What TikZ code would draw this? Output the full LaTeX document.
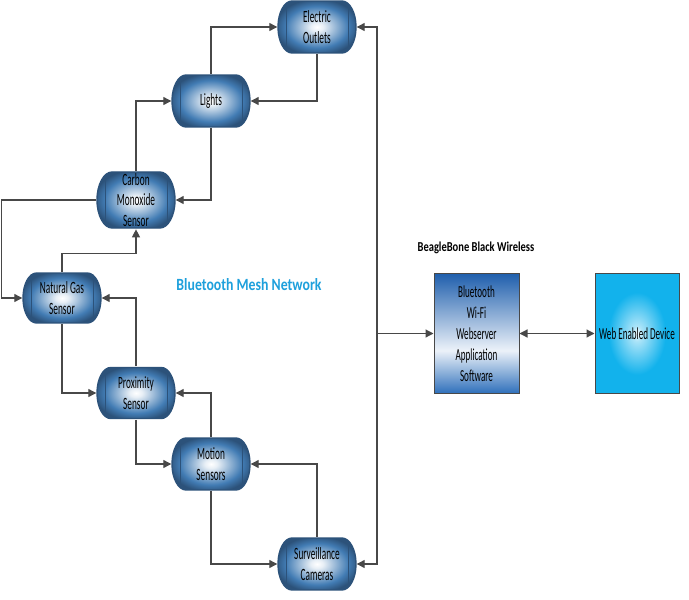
\documentclass[tikz,border=0pt]{standalone}
\usepackage{fontspec}
\setmainfont{Carlito}
\usetikzlibrary{arrows.meta,shapes.misc}
\definecolor{capblue}{RGB}{66,124,180}
\definecolor{capdark}{RGB}{44,82,122}
\definecolor{linegray}{RGB}{72,72,72}
\definecolor{bbdark}{RGB}{30,94,172}
\definecolor{bblight}{RGB}{236,242,249}
\definecolor{bbblue}{RGB}{44,110,186}
\definecolor{wedcyan}{RGB}{18,178,236}
\definecolor{meshblue}{RGB}{30,160,220}
\pgfdeclareradialshading{capshade}{\pgfpoint{0bp}{0bp}}{color(0bp)=(white); color(4bp)=(white!88!capblue); color(20bp)=(capblue); color(27bp)=(capdark); color(50bp)=(capdark)}
\pgfdeclareradialshading{wedshade}{\pgfpoint{0bp}{0bp}}{color(0bp)=(white); color(3bp)=(white!65!wedcyan); color(17bp)=(wedcyan); color(50bp)=(wedcyan)}
\pgfdeclareverticalshading{boneshade}{100bp}{color(0bp)=(bbblue); color(25bp)=(bbblue); color(43bp)=(bblight); color(75bp)=(bbdark); color(100bp)=(bbdark)}
\begin{document}
\begin{tikzpicture}[x=1pt, y=-1pt, line width=1.2pt, >={Triangle[length=8pt,width=8pt]},
cap node/.style={rounded rectangle, draw=capdark, line width=1.4pt, shading=capshade, minimum width=78pt, minimum height=28.1pt, inner sep=0pt, align=center, font=\fontsize{9.3}{11.3}\selectfont, yscale=1.85, transform shape,
  path picture={\draw[capdark, line width=1pt] ([xshift=8pt]path picture bounding box.north west) -- ([xshift=8pt]path picture bounding box.south west);
  \draw[capdark, line width=1pt] ([xshift=-8pt]path picture bounding box.north east) -- ([xshift=-8pt]path picture bounding box.south east);}},
box node/.style={draw=linegray, line width=1pt, minimum width=85pt, minimum height=65.4pt, inner sep=0pt, align=center, font=\fontsize{9.1}{11.3}\selectfont, yscale=1.85, transform shape},
link/.style={draw=linegray, ->}]
\fill[white] (0,0) rectangle (689,600);
\useasboundingbox (0,0) rectangle (689,600);
\begin{scope}
\node[cap node] (outlets) at (317,27) {Electric\\Outlets};
\node[cap node] (lights) at (211,101) {Lights};
\node[cap node, minimum height=30.3pt] (carbon) at (136,200) {Carbon\\Monoxide\\Sensor};
\node[cap node, minimum height=27pt] (gas) at (62,298) {Natural Gas\\Sensor};
\node[cap node, minimum height=27.6pt] (proximity) at (136,393) {Proximity\\Sensor};
\node[cap node] (motion) at (211,464) {Motion\\Sensors};
\node[cap node] (cameras) at (317,564) {Surveillance\\Cameras};
\node[box node, shading=boneshade] (bone) at (476.5,333.5) {Bluetooth\\Wi-Fi\\Webserver\\Application\\Software};
\node[box node, minimum width=84pt, shading=wedshade] (device) at (637,333.5) {Web Enabled Device};
\node[font=\bfseries\fontsize{13.8}{16}\selectfont, text=meshblue, yscale=1.24, transform shape] (mesh) at (249,285) {Bluetooth Mesh Network};
\node[font=\bfseries\fontsize{10.5}{12}\selectfont, yscale=1.3, transform shape] (bonetitle) at (476,248) {BeagleBone Black Wireless};
\coordinate (bus) at (377,333.5);
\end{scope}
\begin{scope}
\draw[link] (lights.north) |- (outlets.west);
\draw[link] (outlets.south) |- (lights.east);
\draw[link] (carbon.north) |- (lights.west);
\draw[link] (lights.south) |- (carbon.east);
\draw[link] (carbon.west) -| ([xshift=-21pt]gas.west) -- (gas.west);
\draw[link] (gas.north) |- ([yshift=-24pt]carbon.south) -- (carbon.south);
\draw[link] (proximity.north) |- (gas.east);
\draw[link] (gas.south) |- (proximity.west);
\draw[link] (motion.north) |- (proximity.east);
\draw[link] (proximity.south) |- (motion.west);
\draw[link] (cameras.north) |- (motion.east);
\draw[link] (motion.south) |- (cameras.west);
\draw[link] (bus) |- (outlets.east);
\draw[link] (bus) |- (cameras.east);
\draw[link] (bus) -- (bone.west);
\draw[link, <->] (bone.east) -- (device.west);
\end{scope}
\end{tikzpicture}
\end{document}
